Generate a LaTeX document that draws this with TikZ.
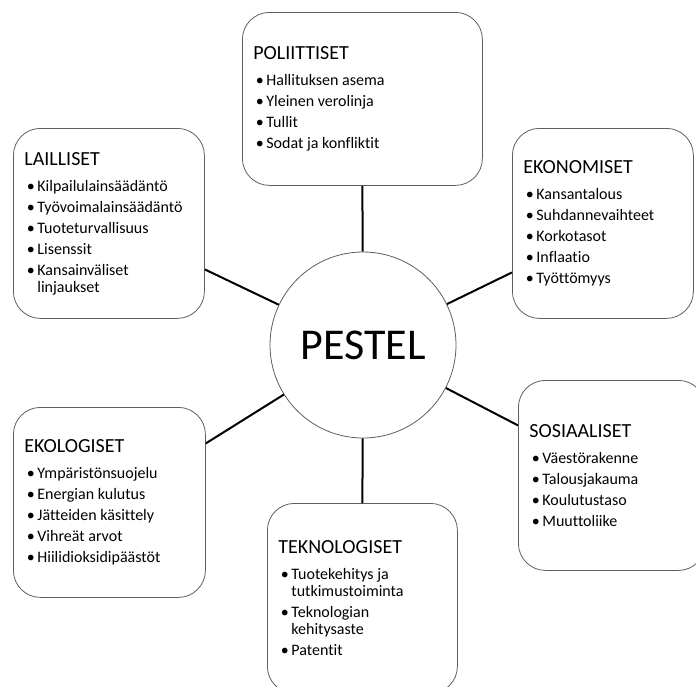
\documentclass[tikz,border=0pt]{standalone}
\usepackage{fontspec}
\setmainfont{Carlito}[Ligatures={NoCommon}]
\definecolor{edge}{RGB}{95,95,95}
\newcommand{\hd}[1]{{\fontsize{20}{24}\selectfont #1\par}\vspace{5pt}}
\newcommand{\bi}[1]{\hangindent=13pt\hangafter=1\rightskip=0pt plus 1fil\relax
  \spaceskip=3.6pt\relax\xspaceskip=3.6pt\relax
  \noindent\makebox[13pt][l]{\hspace{2.5pt}\textbullet}#1\par}
\tikzset{
  box/.style={draw=edge, line width=0.8pt, rounded corners=27pt, fill=white,
    inner xsep=11pt, inner ysep=0pt, align=left, anchor=north west,
    minimum height=190pt,
    font=\fontsize{16}{17}\selectfont\setlength{\parskip}{4pt}},
  hub/.style={circle, draw=edge, line width=0.8pt, fill=white, minimum size=186pt,
    inner sep=0pt, font=\fontsize{44}{44}\selectfont},
  link/.style={draw=black, line width=2pt}
}
\begin{document}
\begin{tikzpicture}[x=1pt,y=-1pt]
\useasboundingbox (0,0) rectangle (696,686);

\node[hub] (c) at (363,345) {PESTEL};

\node[box, text width=218pt, minimum height=173pt] (pol) at (242,12) {%
\hd{POLIITTISET}
\bi{Hallituksen asema}
\bi{Yleinen verolinja}
\bi{Tullit}
\bi{Sodat ja konfliktit}};

\node[box, text width=169pt] (lai) at (13,128) {%
\hd{LAILLISET}
\bi{Kilpailulainsäädäntö}
\bi{Työvoimalainsäädäntö}
\bi{Tuoteturvallisuus}
\bi{Lisenssit}
\bi{Kansainväliset\newline linjaukset}};

\node[box, text width=159pt] (eko) at (512,128) {%
\hd{EKONOMISET}
\bi{Kansantalous}
\bi{Suhdannevaihteet}
\bi{Korkotasot}
\bi{Inflaatio}
\bi{Työttömyys}};

\node[box, text width=165pt] (sos) at (518,380) {%
\hd{SOSIAALISET}
\bi{Väestörakenne}
\bi{Talousjakauma}
\bi{Koulutustaso}
\bi{Muuttoliike}};

\node[box, text width=170pt] (ekol) at (13,407) {%
\hd{EKOLOGISET}
\bi{Ympäristönsuojelu}
\bi{Energian kulutus}
\bi{Jätteiden käsittely}
\bi{Vihreät arvot}
\bi{Hiilidioksidipäästöt}};

\node[box, text width=168pt] (tek) at (267,503) {%
\hd{TEKNOLOGISET}
\bi{Tuotekehitys ja\newline tutkimustoiminta}
\bi{Teknologian\newline kehitysaste}
\bi{Patentit}};

\coordinate (laiE) at ([yshift=-46pt]lai.east);
\coordinate (ekoW) at ([yshift=-49pt]eko.west);
\coordinate (sosW) at ([yshift=50pt]sos.west);
\coordinate (ekolE) at ([yshift=59pt]ekol.east);

\draw[link] (pol.south) -- (c);
\draw[link] (tek.north) -- (c);
\draw[link] (laiE) -- (c);
\draw[link] (ekoW) -- (c);
\draw[link] (sosW) -- (c);
\draw[link] (ekolE) -- (c);
\end{tikzpicture}
\end{document}
